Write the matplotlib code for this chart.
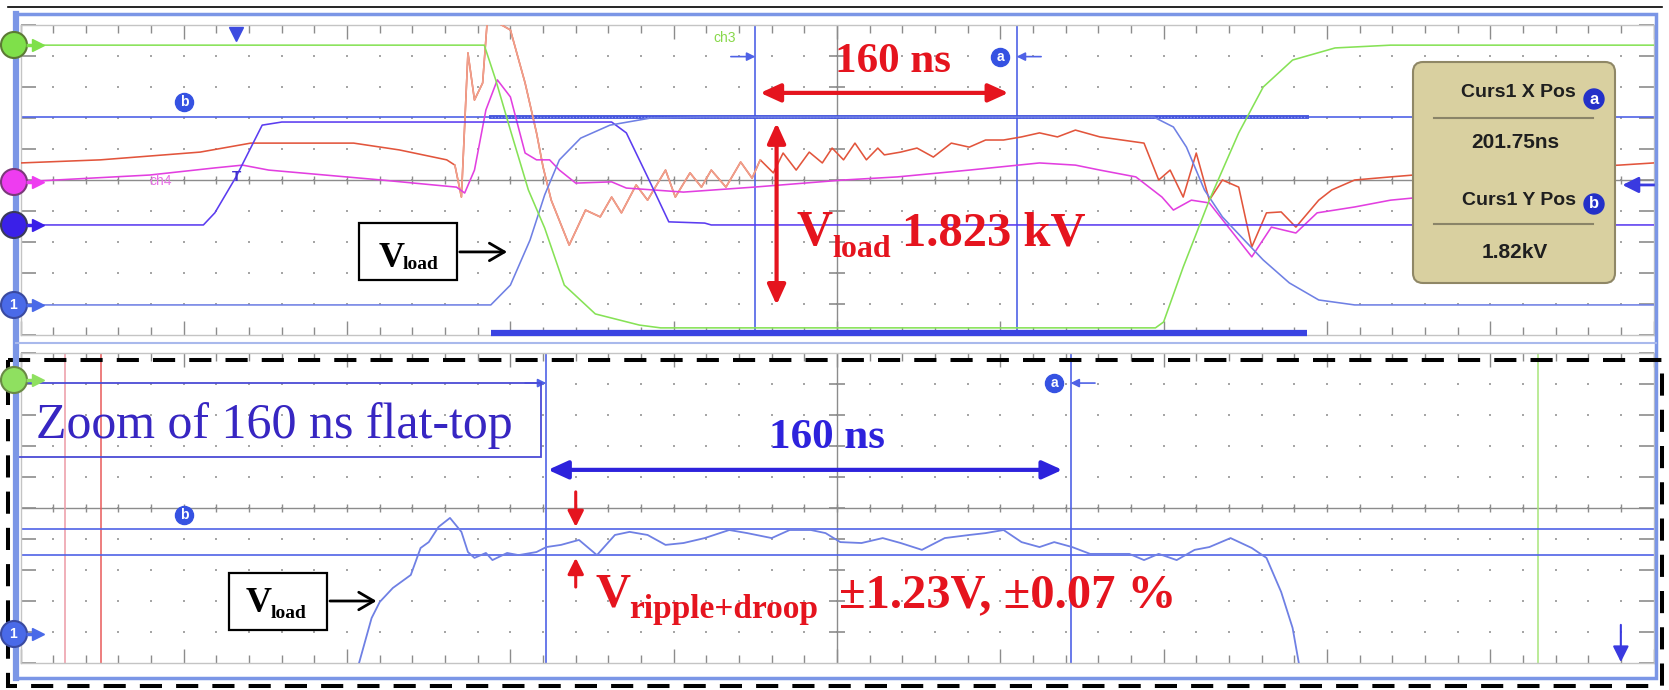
import numpy as np
import matplotlib
matplotlib.use("Agg")
import matplotlib.pyplot as plt
from matplotlib.patches import Rectangle, FancyBboxPatch, Circle

# ---------------- data (oscilloscope screen divisions: x 0..10, y -5..+5) ----------------
# upper panel (100 ns/div)
ch1_x = [0, 2.88, 3.00, 3.12, 3.21, 3.30, 3.43, 3.61, 3.86, 4.16, 6.94, 7.06, 7.14, 7.25, 7.36,
         7.50, 7.61, 7.77, 7.95, 8.17, 10]
ch1_y = [-4.03, -4.03, -3.39, -1.94, -0.48, 0.65, 1.35, 1.77, 2.00, 2.03, 2.03, 1.71, 1.06, -0.32,
         -1.19, -1.97, -2.58, -3.32, -3.87, -4.03, -4.03]

ch2_x = [0, 1.12, 1.19, 1.32, 1.48, 1.60, 3.62, 3.71, 3.84, 3.97, 4.19, 4.23, 10]
ch2_y = [-1.45, -1.45, -1.06, 0.10, 1.77, 1.87, 1.87, 1.52, 0.10, -1.35, -1.39, -1.45, -1.45]

ch3_x = [0, 2.84, 2.91, 3.00, 3.11, 3.21, 3.33, 3.52, 3.79, 3.92, 6.95, 7.00, 7.12, 7.28, 7.46,
         7.61, 7.79, 8.05, 8.39, 10]
ch3_y = [4.35, 4.35, 3.23, 1.61, -0.32, -1.55, -3.39, -4.32, -4.68, -4.77, -4.77, -4.58, -2.81,
         -0.65, 1.52, 3.00, 3.87, 4.26, 4.35, 4.35]

ch4_x = [0, 0.79, 1.19, 1.36, 1.52, 2.21, 2.67, 2.72, 2.78, 2.85, 2.92, 3.00, 3.09, 3.16, 3.24,
         3.30, 3.40, 3.62, 3.71, 4.06, 4.49, 5.04, 5.37, 5.81, 6.24, 6.46, 6.61, 6.83, 6.99, 7.06,
         7.17, 7.28, 7.54, 7.66, 7.81, 7.94, 8.17, 8.39, 8.53]
ch4_y = [-0.06, 0.16, 0.39, 0.48, 0.32, 0.00, -0.23, -0.42, 0.32, 2.26, 3.23, 2.68, 0.87, 0.65,
         0.65, 0.32, -0.10, -0.06, -0.26, -0.39, -0.23, 0.00, 0.10, 0.32, 0.55, 0.48, 0.32, 0.10,
         -0.55, -0.97, -0.65, -0.74, -2.48, -1.52, -1.71, -1.06, -0.87, -0.65, -0.58]

red_x = [0, 0.49, 1.10, 1.41, 2.04, 2.32, 2.61, 2.66, 2.70, 2.74, 2.78, 2.83, 2.86, 3.00, 3.09,
         3.16, 3.20, 3.25, 3.36, 3.46, 3.55, 3.62, 3.68, 3.77, 3.84, 3.95, 4.01, 4.10, 4.17, 4.23,
         4.32, 4.41, 4.48, 4.53, 4.61, 4.67, 4.75, 4.83, 4.91, 4.97, 5.04, 5.11, 5.18, 5.25, 5.29,
         5.39, 5.49, 5.59, 5.70, 5.81, 5.91, 6.02, 6.13, 6.24, 6.35, 6.46, 6.61, 6.88, 6.97, 7.04,
         7.12, 7.20, 7.28, 7.36, 7.46, 7.54, 7.63, 7.72, 7.81, 7.95, 8.03, 8.17, 8.39, 8.53, 9.79, 10]
red_y = [0.55, 0.65, 0.90, 1.19, 1.19, 0.97, 0.65, 0.48, -0.55, 4.10, 2.58, 3.13, 5.26, 4.84, 3.13,
         1.52, 0.42, -0.65, -2.10, -0.97, -1.19, -0.55, -1.06, -0.16, -0.65, 0.32, -0.55, 0.23, -0.23,
         0.32, -0.23, 0.58, 0.06, 0.65, 0.23, 0.87, 0.32, 0.90, 0.55, 1.03, 0.65, 1.19, 0.65, 1.03,
         0.81, 0.90, 1.03, 0.74, 1.19, 1.06, 1.29, 1.29, 1.39, 1.52, 1.39, 1.61, 1.39, 1.19, 0.00,
         0.32, -0.55, 0.87, -0.65, 0.00, -0.23, -2.16, -1.06, -1.03, -1.52, -0.65, -0.32, 0.00, 0.10,
         0.16, 0.48, 0.55]

cur_top_x = [4.50, 6.10]
cur_top_y = [2.03]
zoom_span = [2.88, 7.88]

# lower panel (zoom, 50 ns/div)
zoom_x = [2.07, 2.15, 2.20, 2.28, 2.39, 2.45, 2.50, 2.56, 2.63, 2.70, 2.74, 2.78, 2.85, 2.89, 2.98,
          3.05, 3.16, 3.22, 3.31, 3.42, 3.53, 3.64, 3.73, 3.84, 3.95, 4.06, 4.19, 4.34, 4.45, 4.60,
          4.71, 4.84, 4.93, 5.02, 5.15, 5.28, 5.39, 5.52, 5.66, 5.81, 5.91, 6.02, 6.13, 6.24, 6.33,
          6.44, 6.55, 6.79, 6.88, 6.97, 7.08, 7.19, 7.28, 7.41, 7.54, 7.63, 7.72, 7.79, 7.83]
zoom_y = [-5.06, -3.55, -3.03, -2.58, -2.16, -1.29, -1.10, -0.61, -0.32, -0.77, -1.42, -1.61, -1.45,
          -1.68, -1.45, -1.52, -1.42, -1.26, -1.19, -1.03, -1.52, -0.87, -0.77, -0.87, -1.19, -1.13,
          -0.97, -0.71, -0.81, -0.97, -0.71, -0.71, -0.81, -1.10, -1.13, -0.97, -1.13, -1.35, -0.97,
          -0.87, -0.81, -0.71, -1.10, -1.26, -1.10, -1.26, -1.48, -1.48, -1.68, -1.48, -1.68, -1.35,
          -1.26, -0.97, -1.29, -1.61, -2.71, -3.87, -5.06]
cur_bot_x = [3.22, 6.43]
cur_bot_y = [-0.68, -1.52]
bot_vlines_x = [0.27, 0.49, 9.29]

cursor_x_text = "201.75ns"
cursor_y_text = "1.82kV"

# ---------------- styling ----------------
GREEN = '#86e256'
PURPLE = '#5b3cf0'
LBLUE = '#6f80e4'
MAG = '#e23fe0'
REDW = '#e2553c'
SALMON = '#f0a08c'
CUR = '#4f62e6'
GRID = '#8c8c8c'
ARED = '#e5141e'
ABLUE = '#2d22dc'
SERIF = 'Liberation Serif'
SANS = 'Liberation Sans'

W, H = 1669, 690
fig = plt.figure(figsize=(W / 100, H / 100), dpi=100)
fig.patch.set_facecolor('white')


def frac(x0, y0, x1, y1):
    return [x0 / W, 1 - y1 / H, (x1 - x0) / W, (y1 - y0) / H]


ax_t = fig.add_axes(frac(20.5, 25, 1653.5, 335))
ax_b = fig.add_axes(frac(20.5, 353, 1653.5, 663))


def scope_grid(ax):
    ax.set_xlim(0, 10)
    ax.set_ylim(-5, 5)
    ax.set_xticks(np.arange(0, 10.01, 1))
    ax.set_xticks(np.arange(0, 10.01, 0.2), minor=True)
    ax.set_yticks(np.arange(-5, 5.01, 1))
    ax.tick_params(axis='x', which='both', direction='in', top=True, bottom=True,
                   labelbottom=False, color=GRID, width=1)
    ax.tick_params(axis='x', which='major', length=10)
    ax.tick_params(axis='x', which='minor', length=6)
    ax.tick_params(axis='y', which='major', direction='in', left=True, right=True,
                   labelleft=False, length=11, color=GRID, width=1.2)
    for s in ax.spines.values():
        s.set_color('#c4c4c4')
        s.set_linewidth(1)
    gx, gy = np.meshgrid(np.arange(0.2, 9.9, 0.2), np.arange(-4, 4.1, 1))
    ax.scatter(gx.ravel(), gy.ravel(), s=1.6, c='#a6a6a6', marker='s', linewidths=0, zorder=1)
    ax.axhline(0, color=GRID, lw=1, zorder=1)
    ax.axvline(5, color=GRID, lw=1, zorder=1)
    ax.vlines(np.arange(0.2, 9.9, 0.2), -0.12, 0.12, color=GRID, lw=1, zorder=1)
    ax.hlines(np.arange(-4, 4.1, 1), 4.95, 5.05, color=GRID, lw=1.2, zorder=1)


scope_grid(ax_t)
scope_grid(ax_b)

LW = 1.15
# ---------- upper panel ----------
for x in cur_top_x:
    ax_t.axvline(x, color=CUR, lw=1.2, zorder=2)
ax_t.axhline(cur_top_y[0], color=CUR, lw=1.2, zorder=2)
ax_t.plot(zoom_span, [cur_top_y[0]] * 2, color='#4656de', lw=2.8, zorder=3)
ax_t.plot(zoom_span, [cur_top_y[0]] * 2, color='#8e9cf0', lw=0.9, ls=(0, (1, 1.6)), zorder=3)
ax_t.plot(zoom_span, [-4.94, -4.94], color='#3a44e2', lw=4.5, solid_capstyle='butt',
          clip_on=False, zorder=4)

ax_t.plot(red_x, red_y, color=REDW, lw=LW, zorder=3)
ax_t.plot(red_x[7:34], red_y[7:34], color=SALMON, lw=LW, zorder=3)
ax_t.plot(ch4_x, ch4_y, color=MAG, lw=LW, zorder=3)
ax_t.plot(ch2_x, ch2_y, color=PURPLE, lw=LW, zorder=3)
ax_t.plot(ch1_x, ch1_y, color=LBLUE, lw=LW, zorder=3)
ax_t.plot(ch3_x, ch3_y, color=GREEN, lw=LW, zorder=3)

# scope labels / markers
ax_t.plot([1.32], [4.71], marker='v', ms=10, color='#3d4be0', clip_on=False, zorder=5)
ax_t.text(1.32, 0.1, 'T', color='#4030d0', fontsize=11, weight='bold', family=SANS,
          ha='center', va='center', zorder=5)
ax_t.text(0.86, -0.03, 'ch4', color='#e870e6', fontsize=10, family=SANS, ha='center',
          va='center', zorder=5)
ax_t.text(4.31, 4.58, 'ch3', color='#88d84a', fontsize=10, family=SANS, ha='center',
          va='center', zorder=5)


def badge(ax, x, y, letter, ms=13, fs=10):
    ax.plot([x], [y], marker='o', ms=ms, color='#3552e2', mec='#3552e2', zorder=6, clip_on=False)
    ax.text(x, y, letter, color='white', fontsize=fs, weight='bold', family=SANS,
            ha='center', va='center', zorder=7)


badge(ax_t, 1.0, 2.52, 'b')
badge(ax_t, 6.0, 3.97, 'a')
ax_t.annotate('', xy=(cur_top_x[0], 3.98), xytext=(4.35, 3.98),
              arrowprops=dict(arrowstyle='-|>,head_length=0.5,head_width=0.25', color=CUR,
                              lw=1.2, mutation_scale=10, shrinkA=0, shrinkB=0))
ax_t.annotate('', xy=(cur_top_x[1], 3.98), xytext=(6.25, 3.98),
              arrowprops=dict(arrowstyle='-|>,head_length=0.5,head_width=0.25', color=CUR,
                              lw=1.2, mutation_scale=10, shrinkA=0, shrinkB=0))
ax_t.annotate('', xy=(9.81, -0.16), xytext=(10.02, -0.16), annotation_clip=False,
              arrowprops=dict(arrowstyle='-|>,head_length=0.6,head_width=0.3', color='#3a3ae0',
                              lw=2, mutation_scale=16, shrinkA=0, shrinkB=0))

# annotations (red)
ax_t.annotate('', xy=(6.05, 2.81), xytext=(4.53, 2.81),
              arrowprops=dict(arrowstyle='<|-|>,head_length=0.55,head_width=0.25', color=ARED,
                              lw=3, mutation_scale=22, shrinkA=0, shrinkB=0), zorder=8)
ax_t.annotate('', xy=(4.63, -4.03), xytext=(4.63, 1.84),
              arrowprops=dict(arrowstyle='<|-|>,head_length=0.55,head_width=0.25', color=ARED,
                              lw=3, mutation_scale=22, shrinkA=0, shrinkB=0), zorder=8)
ax_t.text(5.34, 3.49, '160 ns', color=ARED, fontsize=31, weight='bold', family=SERIF,
          ha='center', va='baseline', zorder=8)
ax_t.text(4.75, -2.10, 'V', color=ARED, fontsize=36, weight='bold', family=SERIF,
          ha='left', va='baseline', zorder=8)
ax_t.text(4.97, -2.48, 'load', color=ARED, fontsize=23, weight='bold', family=SERIF,
          ha='left', va='baseline', zorder=8)
ax_t.text(5.40, -2.10, '1.823 kV', color=ARED, fontsize=35, weight='bold', family=SERIF,
          ha='left', va='baseline', zorder=8)

ax_t.add_patch(Rectangle((2.07, -3.23), 0.60, 1.84, fc='white', ec='black', lw=1.6, zorder=8))
ax_t.text(2.195, -2.81, 'V', color='black', fontsize=26, weight='bold', family=SERIF,
          ha='left', va='baseline', zorder=9)
ax_t.text(2.34, -2.87, 'load', color='black', fontsize=14, weight='bold', family=SERIF,
          ha='left', va='baseline', zorder=9)
ax_t.annotate('', xy=(2.98, -2.32), xytext=(2.69, -2.32),
              arrowprops=dict(arrowstyle='->,head_length=0.6,head_width=0.35', color='black',
                              lw=2, mutation_scale=18, shrinkA=0, shrinkB=0), zorder=9)

# ---------- lower panel ----------
ax_b.axvline(bot_vlines_x[0], color='#ec9aa6', lw=1.1, zorder=2)
ax_b.axvline(bot_vlines_x[1], color='#e85a5a', lw=1.1, zorder=2)
ax_b.axvline(bot_vlines_x[2], color='#a8e57a', lw=1.1, zorder=2)
for x in cur_bot_x:
    ax_b.axvline(x, color=CUR, lw=1.2, zorder=2)
for y in cur_bot_y:
    ax_b.axhline(y, color=CUR, lw=1.2, zorder=2)
ax_b.plot(zoom_x, zoom_y, color=LBLUE, lw=1.3, zorder=3)

badge(ax_b, 1.0, -0.23, 'b')
badge(ax_b, 6.33, 4.03, 'a')
ax_b.annotate('', xy=(cur_bot_x[1], 4.03), xytext=(6.58, 4.03),
              arrowprops=dict(arrowstyle='-|>,head_length=0.5,head_width=0.25', color=CUR,
                              lw=1.2, mutation_scale=10, shrinkA=0, shrinkB=0))
ax_b.annotate('', xy=(cur_bot_x[0], 4.03), xytext=(3.09, 4.03),
              arrowprops=dict(arrowstyle='-|>,head_length=0.5,head_width=0.25', color=CUR,
                              lw=1.2, mutation_scale=10, shrinkA=0, shrinkB=0))
ax_b.annotate('', xy=(9.80, -4.97), xytext=(9.80, -3.77), annotation_clip=False,
              arrowprops=dict(arrowstyle='-|>,head_length=0.6,head_width=0.3', color='#3a3ae0',
                              lw=1.5, mutation_scale=16, shrinkA=0, shrinkB=0))

ax_b.add_patch(Rectangle((-0.028, 1.65), 3.215, 2.38, fill=False, ec='#4b4bd6', lw=1.3,
                         clip_on=False, zorder=6))
ax_b.text(0.095, 2.26, 'Zoom of 160 ns flat-top', color='#3726c2', fontsize=36, family=SERIF,
          ha='left', va='baseline', zorder=7)

ax_b.annotate('', xy=(6.38, 1.23), xytext=(3.23, 1.23),
              arrowprops=dict(arrowstyle='<|-|>,head_length=0.55,head_width=0.25', color=ABLUE,
                              lw=3, mutation_scale=22, shrinkA=0, shrinkB=0), zorder=8)
ax_b.text(4.94, 1.935, '160 ns', color=ABLUE, fontsize=31, weight='bold', family=SERIF,
          ha='center', va='baseline', zorder=8)

ax_b.annotate('', xy=(3.40, -0.61), xytext=(3.40, 0.52),
              arrowprops=dict(arrowstyle='-|>,head_length=0.6,head_width=0.3', color=ARED,
                              lw=2.2, mutation_scale=16, shrinkA=0, shrinkB=0), zorder=8)
ax_b.annotate('', xy=(3.40, -1.61), xytext=(3.40, -2.55),
              arrowprops=dict(arrowstyle='-|>,head_length=0.6,head_width=0.3', color=ARED,
                              lw=2.2, mutation_scale=16, shrinkA=0, shrinkB=0), zorder=8)
ax_b.text(3.52, -3.19, 'V', color=ARED, fontsize=35, weight='bold', family=SERIF,
          ha='left', va='baseline', zorder=8)
ax_b.text(3.73, -3.56, 'ripple+droop', color=ARED, fontsize=24, weight='bold', family=SERIF,
          ha='left', va='baseline', zorder=8)
ax_b.text(5.01, -3.19, '±1.23V, ±0.07 %', color=ARED, fontsize=35, weight='bold', family=SERIF,
          ha='left', va='baseline', zorder=8)

ax_b.add_patch(Rectangle((1.277, -3.94), 0.60, 1.84, fc='white', ec='black', lw=1.6, zorder=8))
ax_b.text(1.38, -3.35, 'V', color='black', fontsize=26, weight='bold', family=SERIF,
          ha='left', va='baseline', zorder=9)
ax_b.text(1.53, -3.55, 'load', color='black', fontsize=14, weight='bold', family=SERIF,
          ha='left', va='baseline', zorder=9)
ax_b.annotate('', xy=(2.18, -3.0), xytext=(1.895, -3.0),
              arrowprops=dict(arrowstyle='->,head_length=0.6,head_width=0.35', color='black',
                              lw=2, mutation_scale=18, shrinkA=0, shrinkB=0), zorder=9)

# ---------- overlay: frames, channel markers, readout box ----------
ov = fig.add_axes([0, 0, 1, 1], zorder=10)
ov.set_xlim(0, W)
ov.set_ylim(H, 0)
ov.axis('off')

FRAME = '#7b96e6'
ov.plot([8, 1662], [7, 7], color='black', lw=1.2)
ov.add_patch(Rectangle((15, 14), 1641, 664, fill=False, ec=FRAME, lw=2.5))
ov.plot([16, 16], [14, 678], color=FRAME, lw=4.5)
ov.plot([16, 1656], [343, 343], color='#a9b9ec', lw=1.5)
ov.add_patch(Rectangle((8, 360), 1654, 326, fill=False, ec='black', lw=2.9,
                       ls=(0, (5.5, 3.5))))


def chan_marker(y, fc, ec, label=None):
    ov.add_patch(Circle((14, y), 13, fc=fc, ec=ec, lw=1.5, zorder=12))
    ov.plot([26, 35], [y, y], color=fc, lw=2.5, zorder=12, solid_capstyle='butt')
    ov.plot([38], [y], marker='>', ms=8, color=fc, mec=fc, zorder=12)
    if label:
        ov.text(13, y, label, color='white', fontsize=10, weight='bold', family=SANS,
                ha='center', va='center', zorder=13)


chan_marker(45, '#7fe04a', '#5c7a35')
chan_marker(182, '#ee3cf0', '#7a3a7a')
chan_marker(225, '#3a20e8', '#3a3a5a')
chan_marker(305, '#4a6ae8', '#3a4aa0', '1')
chan_marker(380, '#8fe060', '#6a8a45')
chan_marker(634, '#4a6ae8', '#3a4aa0', '1')

ov.add_patch(FancyBboxPatch((1413, 62), 202, 221, boxstyle='round,pad=0,rounding_size=10',
                            fc='#d9d0a0', ec='#8f8766', lw=1.5, zorder=11))
TXT = '#1f1f1f'
ov.text(1576, 97, 'Curs1 X Pos', ha='right', va='baseline', fontsize=14, weight='bold',
        family=SANS, color=TXT, zorder=12)
ov.text(1576, 205, 'Curs1 Y Pos', ha='right', va='baseline', fontsize=14, weight='bold',
        family=SANS, color=TXT, zorder=12)
ov.text(1515, 148, cursor_x_text, ha='center', va='baseline', fontsize=15, weight='bold',
        family=SANS, color=TXT, zorder=12)
ov.text(1515, 258, cursor_y_text, ha='center', va='baseline', fontsize=15, weight='bold',
        family=SANS, color=TXT, zorder=12)
ov.plot([1434, 1593], [118, 118], color='#8a8468', lw=1.5, zorder=12)
ov.plot([1434, 1593], [224, 224], color='#8a8468', lw=1.5, zorder=12)
for cy, letter in [(99, 'a'), (204, 'b')]:
    ov.add_patch(Circle((1594, cy), 10, fc='#2330c8', ec='#2330c8', zorder=12))
    ov.text(1594, cy, letter, color='white', fontsize=12, weight='bold', family=SANS,
            ha='center', va='center', zorder=13)

fig.savefig('out.png', dpi=100, facecolor='white')
